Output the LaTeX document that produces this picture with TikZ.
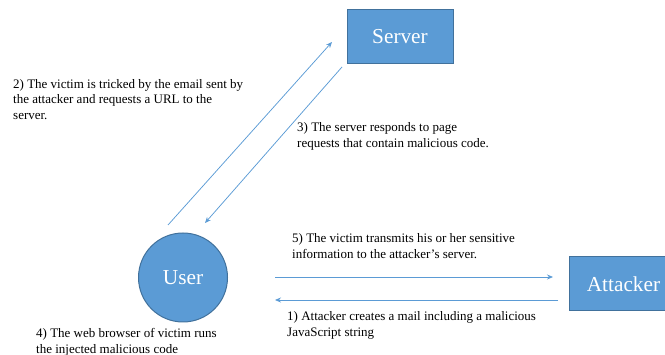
\documentclass[tikz,border=0pt]{standalone}
\usepackage{fontspec}
\setmainfont{Liberation Serif}
\usetikzlibrary{arrows.meta}
\definecolor{officeblue}{HTML}{5B9BD5}
\definecolor{officeedge}{HTML}{41719C}

\begin{document}
\begin{tikzpicture}[x=1pt, y=-1pt,
    box/.style={draw=officeedge, line width=1pt, fill=officeblue, text=white,
        font=\fontsize{21.3}{24}\selectfont},
    note/.style={anchor=north west, align=left, inner sep=0pt,
        font=\fontsize{13}{15.5}\selectfont},
    flow/.style={draw=officeblue, line width=0.75pt, -{Stealth[length=6pt,width=5pt]}}]
    \useasboundingbox (0,0) rectangle (665,355);

    \node[box, minimum width=106pt, minimum height=54pt] (server) at (400, 37) {Server};
    \node[box, circle, minimum size=89pt] (user) at (183, 277.5) {User};
    \node[box, minimum width=108pt, minimum height=54pt, anchor=west] (attacker) at (569, 284) {Attacker};

    % loose ends of the arrows
    \coordinate (req0) at (168, 225);
    \coordinate (req1) at (332, 42);
    \coordinate (resp0) at (342, 67);
    \coordinate (resp1) at (205, 223);
    \coordinate (leak0) at (275, 277);
    \coordinate (leak1) at (553, 277);
    \coordinate (mail0) at (558, 300);
    \coordinate (mail1) at (275, 300);

    \draw[flow] (req0) -- (req1);
    \draw[flow] (resp0) -- (resp1);
    \draw[flow] (leak0) -- (leak1);
    \draw[flow] (mail0) -- (mail1);

    % notes hang from the top of their first line
    \node[note] (step2) at (13, 79) {2) The victim is tricked by the email sent by\\
        the attacker and requests a URL to the\\ server.};
    \node[note] (step3) at (297, 122.5) {3) The server responds to page\\
        requests that contain malicious code.};
    \node[note] (step4) at (36, 328.5) {4) The web browser of victim runs\\
        the injected malicious code};
    \node[note] (step5) at (292, 233.5) {5) The victim transmits his or her sensitive\\
        information to the attacker's server.};
    \node[note] (step1) at (287, 311.5) {1) Attacker creates a mail including a malicious\\
        JavaScript string};
\end{tikzpicture}
\end{document}
